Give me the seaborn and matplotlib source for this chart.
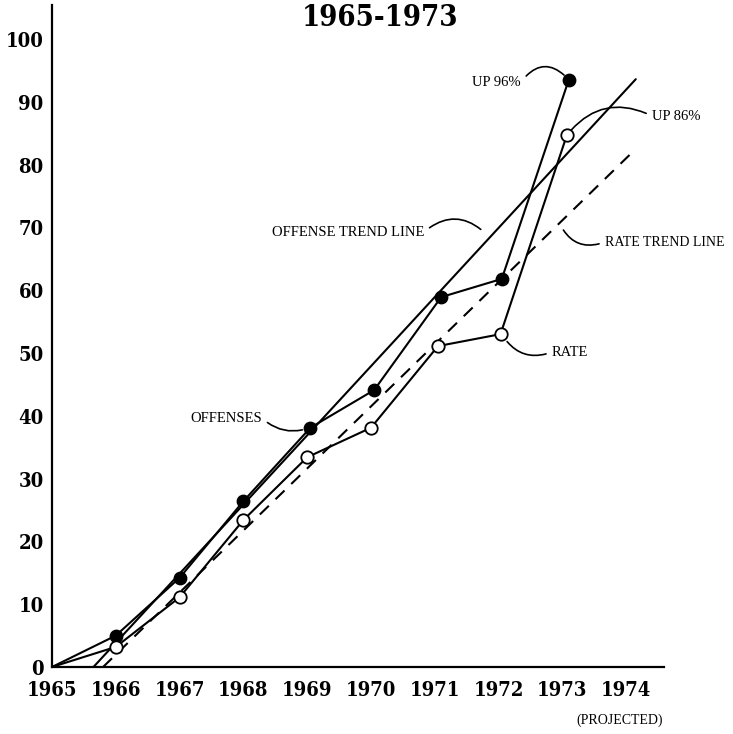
import matplotlib
matplotlib.use("Agg")
import matplotlib.pyplot as plt
import seaborn as sns
import pandas as pd
from matplotlib import font_manager as fm

# ---- data ----
offense_years = [1965, 1966, 1967, 1968, 1969.05, 1970.05, 1971.1, 1972.05, 1973.1]
offenses = [0, 5, 14.2, 26.4, 38.1, 44.1, 58.9, 61.8, 93.5]
rate_years = [1965, 1966, 1967, 1968, 1969, 1970, 1971.05, 1972.03, 1973.07]
rates = [0, 3.2, 11.1, 23.4, 33.4, 38.1, 51.1, 53.0, 84.7]
offense_trend_years = [1965.65, 1974.15]
offense_trend = [0, 93.6]
rate_trend_years = [1965.8, 1974.15]
rate_trend = [0, 82.5]
x_ticks = [1965, 1966, 1967, 1968, 1969, 1970, 1971, 1972, 1973, 1974]
y_ticks = [0, 10, 20, 30, 40, 50, 60, 70, 80, 90, 100]
title = "1965-1973"

sns.set_style("white")
plt.rcParams["text.color"] = "black"

def find_font(keys):
    for k in keys:
        for f in fm.fontManager.ttflist:
            if k.lower() in f.fname.lower():
                return fm.FontProperties(fname=f.fname)
    return None

bold_fp = find_font(["DejaVuSerifCondensed-Bold", "LiberationSansNarrow-Bold"])
if bold_fp is None:
    bold_fp = fm.FontProperties(family="Liberation Serif", weight="bold")
plt.rcParams["font.family"] = ["Liberation Serif", "DejaVu Serif"]

W, H = 733, 734
fig = plt.figure(figsize=(W / 100, H / 100), dpi=100)
ax = fig.add_axes([52 / W, 67 / H, 612 / W, 662 / H])

df_off = pd.DataFrame({"year": offense_years, "value": offenses})
df_rate = pd.DataFrame({"year": rate_years, "value": rates})
df_ot = pd.DataFrame({"year": offense_trend_years, "value": offense_trend})
df_rt = pd.DataFrame({"year": rate_trend_years, "value": rate_trend})

sns.lineplot(data=df_ot, x="year", y="value", ax=ax, color="black", lw=1.5)
sns.lineplot(data=df_rt, x="year", y="value", ax=ax, color="black", lw=1.5,
             linestyle=(0, (6, 4.5)))
sns.lineplot(data=df_off, x="year", y="value", ax=ax, color="black", lw=1.5)
sns.lineplot(data=df_rate, x="year", y="value", ax=ax, color="black", lw=1.5)
sns.scatterplot(data=df_off.iloc[1:], x="year", y="value", ax=ax, color="black",
                s=80, edgecolor="black", linewidth=1, zorder=5)
sns.scatterplot(data=df_rate.iloc[1:], x="year", y="value", ax=ax, color="white",
                s=80, edgecolor="black", linewidth=1.3, zorder=5)

ax.set_xlim(1965, 1965 + 612 / 63.8)
ax.set_ylim(0, 662 / 6.28)
ax.set_xticks(x_ticks)
ax.set_yticks(y_ticks)
ax.set_xticklabels([str(t) for t in x_ticks], fontproperties=bold_fp, fontsize=14.5)
ax.set_yticklabels([str(t) for t in y_ticks], fontproperties=bold_fp, fontsize=14.5)
ax.tick_params(axis="both", direction="inout", length=12, width=1.2,
               colors="black", labelcolor="black")
ax.tick_params(axis="y", pad=0)
ax.tick_params(axis="x", pad=3)
ax.set_xlabel("")
ax.set_ylabel("")
for s in ["top", "right"]:
    ax.spines[s].set_visible(False)
for s in ["left", "bottom"]:
    ax.spines[s].set_linewidth(1.6)
    ax.spines[s].set_color("black")
ax.grid(False)
if ax.get_legend():
    ax.get_legend().remove()

def px(x, y):
    return (1965 + (x - 52) / 63.8, (667 - y) / 6.28)

def note(text, xy, xytext, ha, rad, size=10.5):
    rel = (1.0, 0.5) if ha == "right" else (0.0, 0.5)
    ax.annotate(text, xy=px(*xy), xytext=px(*xytext), ha=ha, va="center",
                fontsize=size, color="black",
                arrowprops=dict(arrowstyle="-", color="black", lw=1.2,
                                shrinkA=2, shrinkB=5, relpos=rel,
                                connectionstyle=f"arc3,rad={rad}"),
                annotation_clip=False)

note("OFFENSES", (309, 428), (262, 418), "right", 0.3)
note("OFFENSE TREND LINE", (486, 234), (424, 232), "right", -0.45)
note("RATE TREND LINE", (560, 224), (605, 242), "left", -0.45, size=10)
note("RATE", (503, 336), (552, 352), "left", -0.4)
note("UP 96%", (569, 80), (521, 82), "right", -0.6)
note("UP 86%", (567, 135), (652, 116), "left", 0.4)

fig.text(380 / W, 1 - 17 / H, title, ha="center", va="center",
         fontproperties=bold_fp, fontsize=21, color="black")
fig.text(620 / W, 1 - 720 / H, "(PROJECTED)", ha="center", va="center",
         fontsize=10, color="black")

fig.savefig("out.png", dpi=100, facecolor="white")
